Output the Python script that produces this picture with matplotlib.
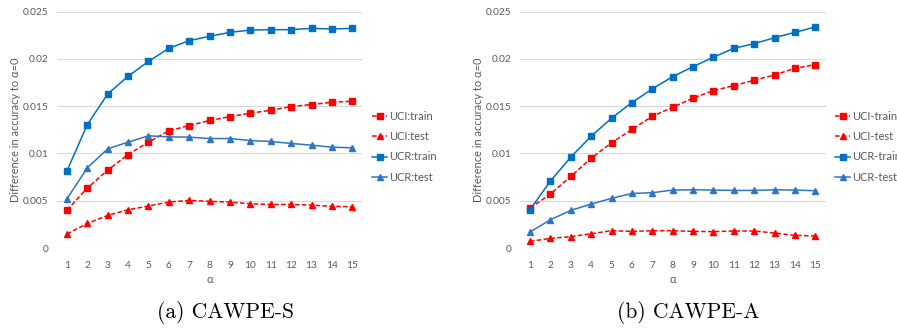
import numpy as np
import matplotlib
matplotlib.use("Agg")
import matplotlib.pyplot as plt

# alpha values on the x axis
alphas = list(range(1, 16))

# CAWPE-S: gain in accuracy over alpha=0
s_uci_train = [0.00401, 0.00634, 0.00824, 0.00989, 0.0112, 0.0124, 0.01296, 0.01349,
               0.0139, 0.01426, 0.01458, 0.01496, 0.01518, 0.01542, 0.01553]
s_uci_test = [0.00148, 0.0026, 0.00345, 0.00405, 0.00444, 0.00486, 0.00504, 0.00493,
              0.00486, 0.00468, 0.00461, 0.00461, 0.00454, 0.0044, 0.00437]
s_ucr_train = [0.00817, 0.01306, 0.0163, 0.01817, 0.01975, 0.02113, 0.02194, 0.0224,
               0.02282, 0.02306, 0.0231, 0.0231, 0.02324, 0.02317, 0.02324]
s_ucr_test = [0.00521, 0.00849, 0.01049, 0.0112, 0.01187, 0.01176, 0.01173, 0.01158,
              0.01158, 0.01137, 0.01127, 0.01106, 0.01088, 0.01067, 0.0106]

# CAWPE-A
a_uci_train = [0.00423, 0.0057, 0.00757, 0.0095, 0.01113, 0.01254, 0.01394, 0.01489,
               0.01585, 0.01665, 0.01718, 0.01775, 0.01831, 0.01901, 0.0194]
a_uci_test = [0.0007, 0.00102, 0.0012, 0.00151, 0.00183, 0.00176, 0.00183, 0.00183,
              0.00176, 0.00173, 0.0018, 0.0018, 0.00158, 0.00134, 0.00127]
a_ucr_train = [0.00405, 0.00708, 0.00961, 0.01183, 0.01373, 0.01539, 0.01683, 0.01813,
               0.01919, 0.02018, 0.02113, 0.02162, 0.02225, 0.02282, 0.02338]
a_ucr_test = [0.00169, 0.00299, 0.00398, 0.00465, 0.00525, 0.00577, 0.00585, 0.00613,
              0.00616, 0.00613, 0.00609, 0.00609, 0.00616, 0.00613, 0.00606]

y_ticks = [0, 0.005, 0.01, 0.015, 0.02, 0.025]
y_tick_labels = ["0", "0.005", "0.01", "0.015", "0.02", "0.025"]

RED = "#FF0000"
BLUE = "#0070C0"
BLUE_LIGHT = "#2E75C6"
GREY_TXT = "#595959"
GRID = "#D9D9D9"
FONT = "Lato"


def draw_panel(ax, series, names):
    styles = [
        dict(color=RED, ls="--", marker="s", ms=4.8),
        dict(color=RED, ls="--", marker="^", ms=4.5),
        dict(color=BLUE, ls="-", marker="s", ms=4.8),
        dict(color=BLUE_LIGHT, ls="-", marker="^", ms=4.5),
    ]
    for vals, name, st in zip(series, names, styles):
        ax.plot(alphas, vals, color=st["color"], linestyle=st["ls"], linewidth=1.1,
                marker=st["marker"], markersize=st["ms"], label=name,
                dashes=(3, 1.5) if st["ls"] == "--" else (None, None))

    ax.set_xlim(0.5, 15.5)
    ax.set_ylim(0, 0.025)
    ax.set_xticks(alphas)
    ax.set_xticklabels([str(a) for a in alphas], fontsize=7.3, color=GREY_TXT, family=FONT)
    ax.set_yticks(y_ticks)
    ax.set_yticklabels(y_tick_labels, fontsize=7.3, color=GREY_TXT, family=FONT)
    ax.tick_params(axis="x", length=0, pad=9)
    ax.tick_params(axis="y", length=0, pad=6)
    ax.grid(axis="y", color=GRID, linewidth=0.8)
    ax.set_axisbelow(True)
    for side in ["top", "right", "left", "bottom"]:
        ax.spines[side].set_visible(False)
    ax.set_xlabel("α", fontsize=7.9, color=GREY_TXT, family=FONT, labelpad=3)
    ax.set_ylabel("Difference in accuracy to α=0", fontsize=7.9, color=GREY_TXT,
                  family=FONT, labelpad=1.5)

    leg = ax.legend(loc="center left", bbox_to_anchor=(1.018, 0.428), frameon=False,
                    handlelength=1.35, handletextpad=0.15,
                    labelspacing=0.82, borderaxespad=0, prop={"family": FONT, "size": 8.0})
    for t in leg.get_texts():
        t.set_color(GREY_TXT)


fig = plt.figure(figsize=(8.97, 3.29), dpi=100)
ax1 = fig.add_axes([0.0633, 0.2462, 0.3408, 0.7182])
ax2 = fig.add_axes([0.5795, 0.2462, 0.3408, 0.7182])

draw_panel(ax1, [s_uci_train, s_uci_test, s_ucr_train, s_ucr_test],
           ["UCI:train", "UCI:test", "UCR:train", "UCR:test"])
draw_panel(ax2, [a_uci_train, a_uci_test, a_ucr_train, a_ucr_test],
           ["UCI-train", "UCI-test", "UCR-train", "UCR-test"])

fig.text(225 / 897, 1 - 313 / 329, "(a) CAWPE-S", ha="center", va="center",
         fontsize=15.5, family="cmr10")
fig.text(688 / 897, 1 - 313 / 329, "(b) CAWPE-A", ha="center", va="center",
         fontsize=15.5, family="cmr10")

fig.savefig("out.png", dpi=100)
